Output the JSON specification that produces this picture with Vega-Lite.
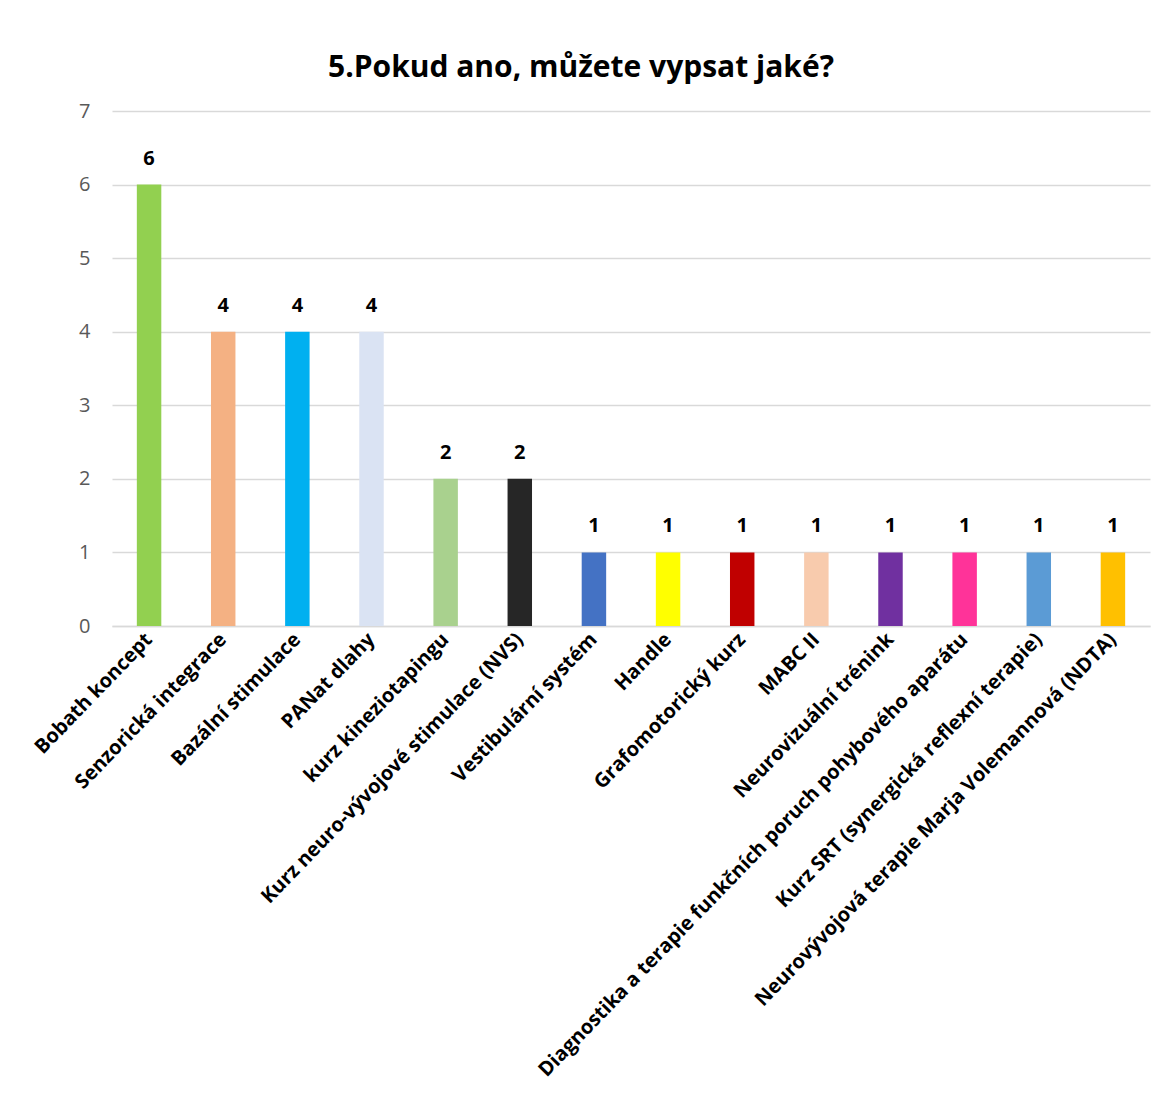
{
  "$schema": "https://vega.github.io/schema/vega-lite/v6.json",
  "width": 1038,
  "height": 515,
  "autosize": {"type": "none"},
  "padding": {"left": 112, "top": 111, "right": 20, "bottom": 471},
  "background": "white",
  "title": {
    "text": "5.Pokud ano, můžete vypsat jaké?",
    "font": "Open Sans",
    "fontSize": 30,
    "fontWeight": "bold",
    "color": "#000000",
    "anchor": "middle",
    "dx": -50,
    "offset": 18
  },
  "data": {
    "values": [
      {"kurz": "Bobath koncept", "pocet": 6},
      {"kurz": "Senzorická integrace", "pocet": 4},
      {"kurz": "Bazální stimulace", "pocet": 4},
      {"kurz": "PANat dlahy", "pocet": 4},
      {"kurz": "kurz kineziotapingu", "pocet": 2},
      {"kurz": "Kurz neuro-vývojové stimulace (NVS)", "pocet": 2},
      {"kurz": "Vestibulární systém", "pocet": 1},
      {"kurz": "Handle", "pocet": 1},
      {"kurz": "Grafomotorický kurz", "pocet": 1},
      {"kurz": "MABC II", "pocet": 1},
      {"kurz": "Neurovizuální trénink", "pocet": 1},
      {"kurz": "Diagnostika a terapie funkčních poruch pohybového aparátu", "pocet": 1},
      {"kurz": "Kurz SRT (synergická reflexní terapie)", "pocet": 1},
      {"kurz": "Neurovývojová terapie Marja Volemannová (NDTA)", "pocet": 1}
    ]
  },
  "encoding": {
    "x": {
      "field": "kurz",
      "type": "nominal",
      "sort": null,
      "scale": {"paddingInner": 0.67, "paddingOuter": 0.335},
      "axis": {
        "title": null,
        "labelAngle": -46,
        "labelAlign": "right",
        "labelBaseline": "middle",
        "labelFont": "Open Sans",
        "labelFontSize": 20,
        "labelFontWeight": "bold",
        "labelColor": "#000000",
        "labelPadding": 10,
        "labelLimit": 1000,
        "ticks": false,
        "domainColor": "#D9D9D9",
        "domainWidth": 1.5,
        "grid": false
      }
    },
    "y": {
      "field": "pocet",
      "type": "quantitative",
      "scale": {"domain": [0, 7]},
      "axis": {
        "title": null,
        "values": [0, 1, 2, 3, 4, 5, 6, 7],
        "domain": false,
        "ticks": false,
        "labelFont": "Open Sans",
        "labelFontSize": 20,
        "labelColor": "#595959",
        "labelPadding": 22,
        "gridColor": "#D9D9D9",
        "gridWidth": 1.5
      }
    }
  },
  "layer": [
    {
      "mark": {"type": "bar"},
      "encoding": {
        "color": {
          "field": "kurz",
          "type": "nominal",
          "sort": null,
          "legend": null,
          "scale": {
            "range": ["#92D050", "#F4B183", "#00B0F0", "#DAE3F3", "#A9D18E", "#262626", "#4472C4", "#FFFF00", "#C00000", "#F8CBAD", "#7030A0", "#FF3399", "#5B9BD5", "#FFC000"]
          }
        }
      }
    },
    {
      "mark": {"type": "text", "dy": -26, "font": "Open Sans", "fontSize": 20, "fontWeight": "bold", "color": "#000000"},
      "encoding": {"text": {"field": "pocet", "type": "quantitative"}}
    }
  ],
  "config": {"view": {"stroke": null}}
}
